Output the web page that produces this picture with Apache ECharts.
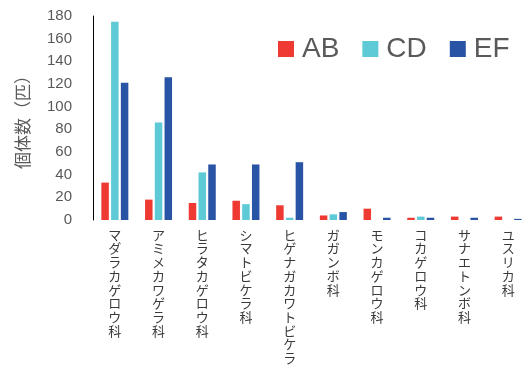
<!DOCTYPE html>
<html>
<head>
<meta charset="utf-8">
<script src="https://cdn.jsdelivr.net/npm/echarts@6/dist/echarts.min.js"></script>
<style>
  html, body { margin: 0; padding: 0; background: #fff; }
  #chart { width: 530px; height: 365px; }
</style>
</head>
<body>
<div id="chart"></div>
<script>
// Families of aquatic insects and their counts at three sites
const categories = [
  'マダラカゲロウ科', 'アミメカワゲラ科', 'ヒラタカゲロウ科', 'シマトビケラ科',
  'ヒゲナガカワトビケラ', 'ガガンボ科', 'モンカゲロウ科', 'コカゲロウ科',
  'サナエトンボ科', 'ユスリカ科'
];
const seriesNames = ['AB', 'CD', 'EF'];
const valuesAB = [33, 18, 15, 17, 13, 4, 10, 2, 3, 3];
const valuesCD = [175, 86, 42, 14, 2, 5, 0, 3, 0, 0];
const valuesEF = [121, 126, 49, 49, 51, 7, 2, 2, 2, 1];
const yTitle = '個体数（匹）';

const colors = ['#EF3A33', '#5DCAD6', '#2953A4'];
const seriesValues = [valuesAB, valuesCD, valuesEF];

const chart = echarts.init(document.getElementById('chart'));
chart.setOption({
  animation: false,
  color: colors,
  grid: { left: 93, width: 439, top: 16, bottom: 144, containLabel: false },
  legend: {
    data: seriesNames,
    left: 278,
    top: 35,
    padding: 0,
    icon: 'rect',
    itemWidth: 16,
    itemHeight: 16,
    itemGap: 23,
    textStyle: {
      fontFamily: 'Liberation Sans',
      fontSize: 28,
      color: '#595959',
      padding: [0, 0, 0, 3]
    }
  },
  xAxis: {
    type: 'category',
    data: categories,
    axisLine: { show: false },
    axisTick: { show: false },
    axisLabel: {
      interval: 0,
      margin: 8,
      fontFamily: 'Noto Sans CJK JP',
      fontSize: 13,
      lineHeight: 13.7,
      color: '#3a3a3a',
      verticalAlign: 'top',
      // stack the characters to read top to bottom
      formatter: (v) => v.split('').join('\n')
    }
  },
  yAxis: {
    type: 'value',
    min: 0,
    max: 180,
    interval: 20,
    name: yTitle,
    nameLocation: 'middle',
    nameRotate: 90,
    nameGap: 62,
    nameTextStyle: {
      fontFamily: 'Noto Sans CJK JP',
      fontSize: 17,
      color: '#595959'
    },
    axisLine: { show: true, lineStyle: { color: '#000', width: 1 } },
    axisTick: { show: false },
    splitLine: { show: false },
    axisLabel: {
      margin: 21,
      fontFamily: 'Liberation Sans',
      fontSize: 15,
      color: '#595959'
    }
  },
  series: seriesNames.map((name, i) => ({
    name: name,
    type: 'bar',
    data: seriesValues[i],
    barWidth: 7.5,
    barGap: '30%'
  }))
});
</script>
</body>
</html>
